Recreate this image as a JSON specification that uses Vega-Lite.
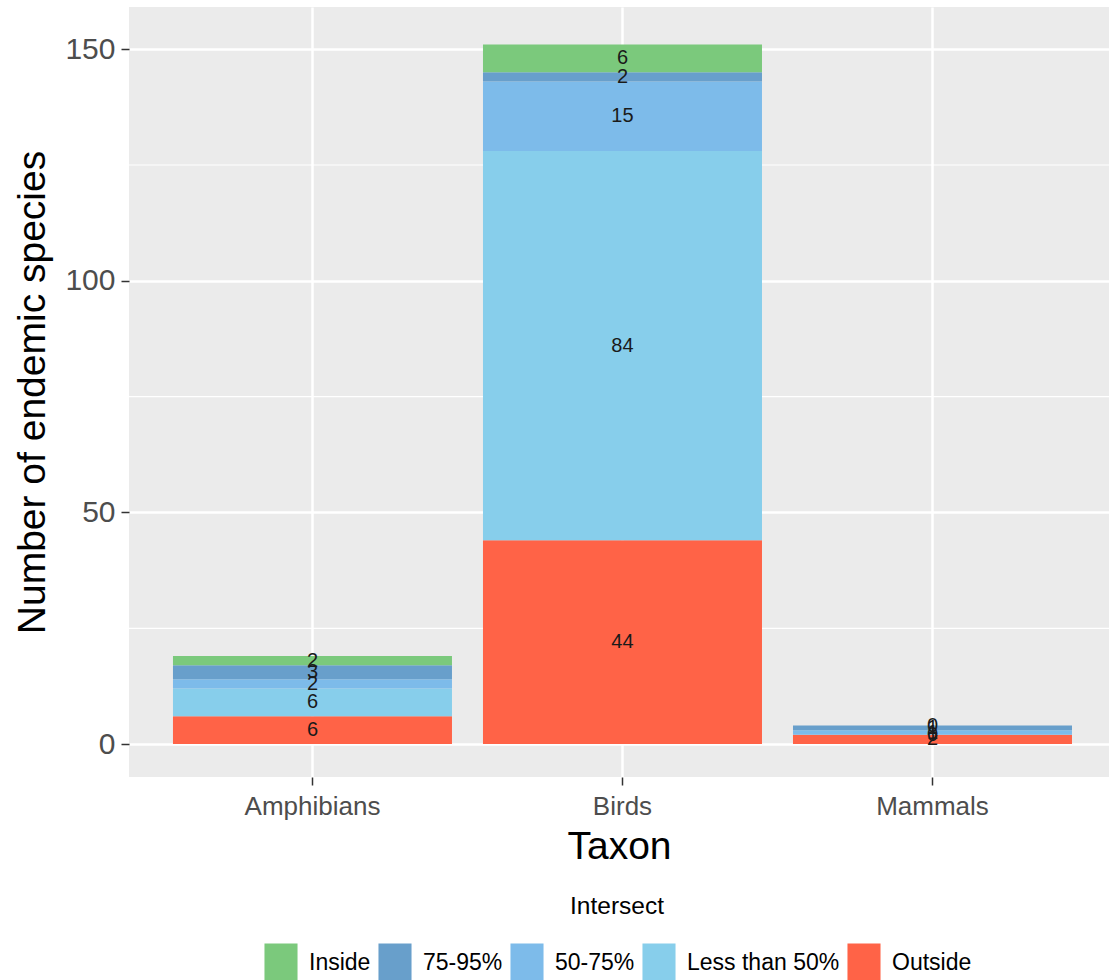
{
  "$schema": "https://vega.github.io/schema/vega-lite/v6.json",
  "width": 980,
  "height": 770,
  "autosize": {"type": "none"},
  "padding": {"left": 129, "top": 7, "right": 0, "bottom": 203},
  "background": "white",
  "config": {
    "view": {"fill": "#EBEBEB", "stroke": null},
    "font": "Liberation Sans",
    "axis": {
      "domain": false,
      "grid": true,
      "gridColor": "white",
      "gridWidth": 2.5,
      "tickColor": "#333333",
      "tickSize": 8,
      "tickWidth": 1.5,
      "labelColor": "#4D4D4D",
      "labelFontSize": 26,
      "titleColor": "black",
      "titleFontSize": 39,
      "titleFontWeight": "normal"
    }
  },
  "datasets": {
    "counts": [
      {"taxon": "Amphibians", "intersect": "Outside", "species": 6},
      {"taxon": "Amphibians", "intersect": "Less than 50%", "species": 6},
      {"taxon": "Amphibians", "intersect": "50-75%", "species": 2},
      {"taxon": "Amphibians", "intersect": "75-95%", "species": 3},
      {"taxon": "Amphibians", "intersect": "Inside", "species": 2},
      {"taxon": "Birds", "intersect": "Outside", "species": 44},
      {"taxon": "Birds", "intersect": "Less than 50%", "species": 84},
      {"taxon": "Birds", "intersect": "50-75%", "species": 15},
      {"taxon": "Birds", "intersect": "75-95%", "species": 2},
      {"taxon": "Birds", "intersect": "Inside", "species": 6},
      {"taxon": "Mammals", "intersect": "Outside", "species": 2},
      {"taxon": "Mammals", "intersect": "Less than 50%", "species": 0},
      {"taxon": "Mammals", "intersect": "50-75%", "species": 1},
      {"taxon": "Mammals", "intersect": "75-95%", "species": 1},
      {"taxon": "Mammals", "intersect": "Inside", "species": 0}
    ],
    "classes": [
      {"intersect": "Outside", "stackOrder": 1},
      {"intersect": "Less than 50%", "stackOrder": 2},
      {"intersect": "50-75%", "stackOrder": 3},
      {"intersect": "75-95%", "stackOrder": 4},
      {"intersect": "Inside", "stackOrder": 5}
    ],
    "minorGrid": [{"v": 25}, {"v": 75}, {"v": 125}]
  },
  "layer": [
    {
      "data": {"name": "minorGrid"},
      "mark": {"type": "rule", "color": "white", "strokeWidth": 1.2},
      "encoding": {
        "y": {"field": "v", "type": "quantitative"}
      }
    },
    {
      "data": {"name": "counts"},
      "transform": [
        {"lookup": "intersect", "from": {"data": {"name": "classes"}, "key": "intersect", "fields": ["stackOrder"]}}
      ],
      "mark": {"type": "bar"},
      "encoding": {
        "x": {
          "field": "taxon",
          "type": "nominal",
          "scale": {"paddingInner": 0.1, "paddingOuter": 0.1306, "align": 0.543},
          "axis": {"labelAngle": 0, "labelPadding": 8, "title": "Taxon", "titlePadding": 8, "bandPosition": 0.5}
        },
        "y": {
          "field": "species",
          "type": "quantitative",
          "stack": "zero",
          "scale": {"domain": [-7.1, 159.1], "nice": false, "zero": false},
          "axis": {"values": [0, 50, 100, 150], "labelPadding": 6, "labelFontSize": 30, "title": "Number of endemic species", "titlePadding": 12}
        },
        "color": {
          "field": "intersect",
          "type": "nominal",
          "sort": ["Inside", "75-95%", "50-75%", "Less than 50%", "Outside"],
          "scale": {
            "domain": ["Inside", "75-95%", "50-75%", "Less than 50%", "Outside"],
            "range": ["#7BC97C", "#689FCB", "#7DBBEA", "#87CEEB", "#FF6347"]
          },
          "legend": {
            "orient": "none",
            "direction": "horizontal",
            "legendX": 133,
            "legendY": 888,
            "title": "Intersect",
            "titleOrient": "top",
            "titleAnchor": "middle",
            "titleFontSize": 24.5,
            "titleFontWeight": "normal",
            "titleColor": "black",
            "titlePadding": 24,
            "labelFontSize": 23,
            "labelColor": "black",
            "labelOffset": 9,
            "columnPadding": 5,
            "symbolType": "M-0.87,-1H0.87V1H-0.87Z",
            "symbolSize": 1444,
            "symbolStrokeWidth": 0,
            "symbolOpacity": 1
          }
        },
        "order": {"field": "stackOrder", "type": "quantitative", "sort": "ascending"}
      }
    },
    {
      "data": {"name": "counts"},
      "transform": [
        {"lookup": "intersect", "from": {"data": {"name": "classes"}, "key": "intersect", "fields": ["stackOrder"]}}
      ],
      "mark": {"type": "text", "fontSize": 20, "color": "#1a1a1a"},
      "encoding": {
        "x": {"field": "taxon", "type": "nominal"},
        "y": {"field": "species", "type": "quantitative", "stack": "zero", "bandPosition": 0.5},
        "detail": {"field": "intersect"},
        "order": {"field": "stackOrder", "type": "quantitative", "sort": "ascending"},
        "text": {"field": "species", "type": "quantitative"}
      }
    }
  ]
}
